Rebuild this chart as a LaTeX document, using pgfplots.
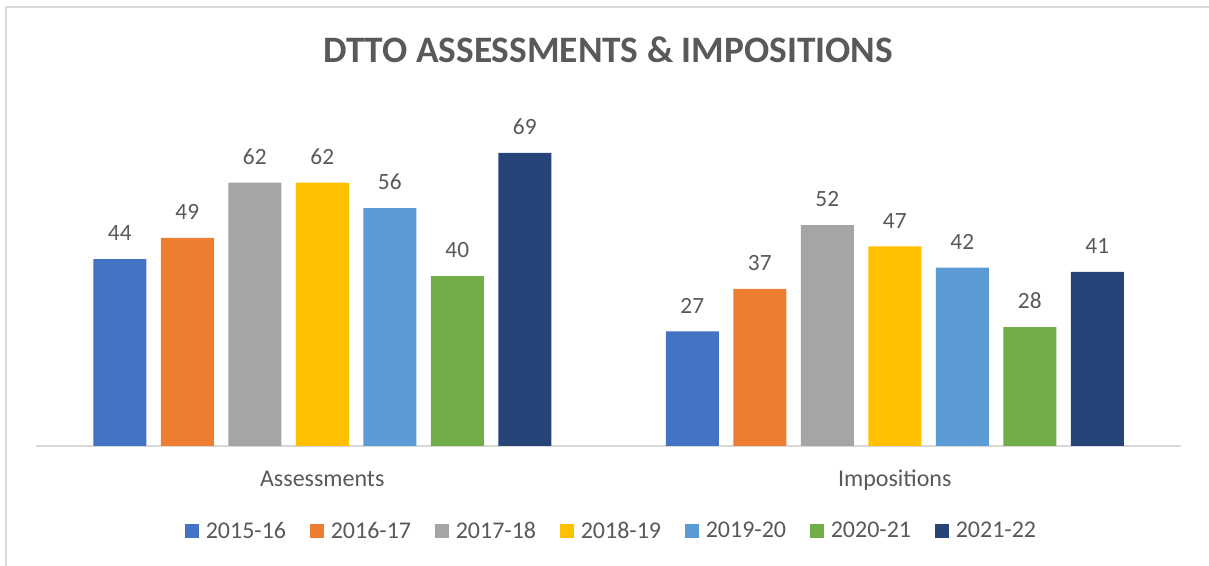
\documentclass[border=0pt]{standalone}
\usepackage{pgfplots}
\pgfplotsset{compat=1.18}
\usepackage{fontspec}
\setmainfont{Carlito}

\definecolor{txt}{HTML}{595959}
\definecolor{gridc}{HTML}{D9D9D9}
\definecolor{c1}{HTML}{4472C4}
\definecolor{c2}{HTML}{ED7D31}
\definecolor{c3}{HTML}{A5A5A5}
\definecolor{c4}{HTML}{FFC000}
\definecolor{c5}{HTML}{5B9BD5}
\definecolor{c6}{HTML}{70AD47}
\definecolor{c7}{HTML}{264478}

\begin{document}
\begin{tikzpicture}
\useasboundingbox (0pt,0pt) rectangle (906.75pt,424.5pt);
% chart frame (only left and top edges are visible)
\draw[gridc, line width=1.5pt] (4.5pt,0pt) -- (4.5pt,419.25pt) -- (906.75pt,419.25pt);

\node[text=txt, font=\fontsize{28}{34}\selectfont\bfseries] at (456pt,387pt) {DTTO ASSESSMENTS \& IMPOSITIONS};

\begin{axis}[
  at={(27pt,90pt)}, anchor=south west,
  scale only axis,
  width=858.75pt, height=254.8pt,
  ybar=10.875pt, bar width=39.75pt,
  xmin=-0.5, xmax=1.5,
  ymin=0, ymax=80,
  axis y line=none,
  axis x line*=bottom,
  x axis line style={gridc, line width=1.5pt},
  xtick={0,1},
  xticklabels={Assessments,Impositions},
  major tick length=0pt,
  xticklabel style={text=txt, font=\fontsize{18}{21}\selectfont,
    text height=0.7em, text depth=0.2em, yshift=-20pt},
  nodes near coords,
  every node near coord/.append style={text=txt, font=\fontsize{17.5}{20}\selectfont,
    inner sep=0pt, anchor=south, yshift=13.5pt},
  /pgf/number format/assume math mode=true,
  legend columns=7,
  legend style={draw=none, at={(0.503,-0.25)}, anchor=center,
    font=\fontsize{18}{21}\selectfont, text=txt,
    /tikz/every odd column/.append style={column sep=3pt},
    /tikz/every even column/.append style={column sep=16pt}},
  legend image code/.code={\fill[#1] (0pt,-5.25pt) rectangle (10.5pt,5.25pt);},
]
\addplot[fill=c1, draw=none] coordinates {(0,44) (1,27)};
\addlegendentry{2015-16}
\addplot[fill=c2, draw=none] coordinates {(0,49) (1,37)};
\addlegendentry{2016-17}
\addplot[fill=c3, draw=none] coordinates {(0,62) (1,52)};
\addlegendentry{2017-18}
\addplot[fill=c4, draw=none] coordinates {(0,62) (1,47)};
\addlegendentry{2018-19}
\addplot[fill=c5, draw=none] coordinates {(0,56) (1,42)};
\addlegendentry{2019-20}
\addplot[fill=c6, draw=none] coordinates {(0,40) (1,28)};
\addlegendentry{2020-21}
\addplot[fill=c7, draw=none] coordinates {(0,69) (1,41)};
\addlegendentry{2021-22}
\end{axis}
\end{tikzpicture}
\end{document}
